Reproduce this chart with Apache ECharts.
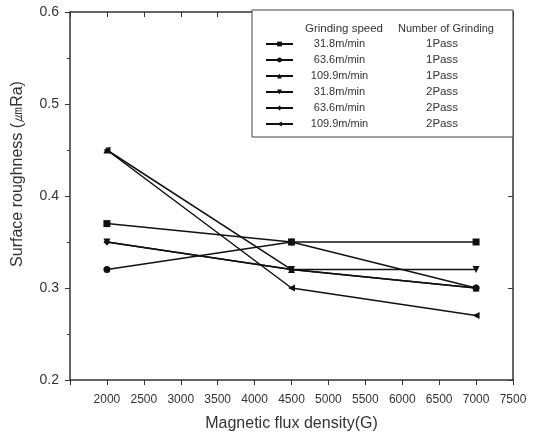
<!DOCTYPE html>
<html><head><meta charset="utf-8">
<script src="https://cdn.jsdelivr.net/npm/echarts@6/dist/echarts.min.js"></script>
<style>html,body{margin:0;padding:0;background:#fff}#c{width:541px;height:433px}</style>
</head><body><div id="c"></div>
<script>
const fluxDensity = [2000, 4500, 7000];
const speeds = ['31.8m/min', '63.6m/min', '109.9m/min', '31.8m/min', '63.6m/min', '109.9m/min'];
const passes = ['1Pass', '1Pass', '1Pass', '2Pass', '2Pass', '2Pass'];
const s1 = [0.37, 0.35, 0.35];
const s2 = [0.32, 0.35, 0.30];
const s3 = [0.45, 0.32, 0.30];
const s4 = [0.35, 0.32, 0.32];
const s5 = [0.35, 0.32, 0.30];
const s6 = [0.45, 0.30, 0.27];
const seriesValues = [s1, s2, s3, s4, s5, s6];
const symbols = ['rect', 'circle', 'triangle', 'triangle', 'diamond', 'triangle'];
const rotations = [0, 0, 0, 180, 0, 90];

const names = speeds.map((s, i) => s + ' ' + passes[i]);
const font = 'Liberation Sans, Arial, sans-serif';
const chart = echarts.init(document.getElementById('c'));
const axisLine = {show: true, lineStyle: {color: '#333', width: 1.5}};
chart.setOption({
  animation: false,
  backgroundColor: '#fff',
  grid: {left: 70, right: 28, top: 12, bottom: 53, outerBoundsMode: 'none', containLabel: false},
  legend: {
    left: 252, top: 10,
    orient: 'vertical',
    data: names,
    padding: [28, 55, 7, 13],
    itemWidth: 27, itemHeight: 6, itemGap: 4.0,
    borderColor: '#444', borderWidth: 1, backgroundColor: '#fff',
    selectedMode: false,
    formatter: function (n) {
      const i = names.indexOf(n);
      return '{s|' + speeds[i] + '}{p|' + passes[i] + '}';
    },
    textStyle: {
      fontFamily: font, fontSize: 11, color: '#333',
      rich: {
        s: {width: 83, align: 'right', fontFamily: font, fontSize: 11, color: '#333'},
        p: {align: 'left', padding: [0, 0, 0, 45], fontFamily: font, fontSize: 11.5, color: '#333'}
      }
    }
  },
  graphic: [
    {type: 'text', left: 305, top: 23, z: 100, style: {text: 'Grinding speed', font: '11.5px ' + font, fill: '#333'}},
    {type: 'text', left: 398, top: 23, z: 100, style: {text: 'Number of Grinding', font: '11px ' + font, fill: '#333'}}
  ],
  xAxis: [{
    type: 'value', min: 1500, max: 7500, interval: 500, position: 'bottom',
    name: 'Magnetic flux density(G)', nameLocation: 'middle', nameGap: 36,
    nameTextStyle: {fontFamily: font, fontSize: 16, color: '#333'},
    axisLine: axisLine,
    axisTick: {show: true, inside: false, length: 5, lineStyle: {color: '#333'}},
    axisLabel: {fontFamily: font, fontSize: 12, color: '#333', margin: 14,
      formatter: v => v === 1500 ? '' : String(v)},
    splitLine: {show: false}
  }, {
    type: 'value', min: 1500, max: 7500, interval: 500, position: 'top',
    axisLine: axisLine,
    axisTick: {show: true, inside: true, length: 5, lineStyle: {color: '#333'}},
    axisLabel: {show: false}, splitLine: {show: false}
  }],
  yAxis: [{
    type: 'value', min: 0.2, max: 0.6, interval: 0.1, position: 'left',
    name: 'Surface roughness (㎛Ra)', nameLocation: 'middle', nameGap: 44,
    nameTextStyle: {fontFamily: font, fontSize: 16, color: '#333', padding: [0, 0, 0, 44]},
    axisLine: axisLine,
    axisTick: {show: true, inside: false, length: 5, lineStyle: {color: '#333'}},
    minorTick: {show: true, splitNumber: 2, length: 3, lineStyle: {color: '#333'}},
    axisLabel: {fontFamily: font, fontSize: 14, color: '#333', margin: 11, formatter: v => v.toFixed(1)},
    splitLine: {show: false}
  }, {
    type: 'value', min: 0.2, max: 0.6, interval: 0.1, position: 'right',
    axisLine: axisLine,
    axisTick: {show: true, inside: true, length: 5, lineStyle: {color: '#333'}},
    axisLabel: {show: false}, splitLine: {show: false}
  }],
  series: seriesValues.map((vals, i) => ({
    name: names[i], type: 'line',
    data: fluxDensity.map((x, j) => [x, vals[j]]),
    symbol: symbols[i], symbolRotate: rotations[i], symbolSize: 7,
    showAllSymbol: true,
    lineStyle: {color: '#111', width: 1.5},
    itemStyle: {color: '#111'},
    emphasis: {disabled: true}
  }))
});
</script></body></html>
